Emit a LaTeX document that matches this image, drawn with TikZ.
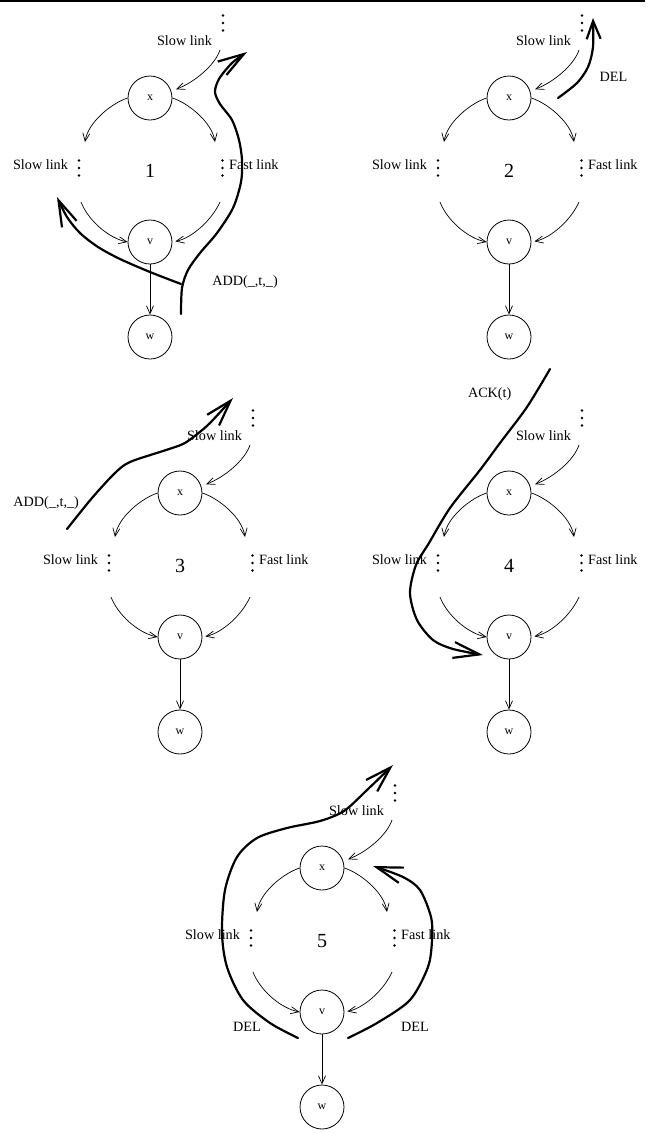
\documentclass[tikz,border=0pt]{standalone}
\usepackage{fontspec}
\setmainfont{Liberation Serif}
\usetikzlibrary{arrows.meta}

\tikzset{
  lbl/.style={font=\fontsize{14.2}{17}\selectfont, inner sep=0pt},
  vtx/.style={circle, draw, line width=0.8pt, minimum size=44pt, inner sep=0pt,
              font=\fontsize{12}{14}\selectfont},
  numlbl/.style={font=\fontsize{20}{24}\selectfont, inner sep=0pt},
  link/.style={line width=0.7pt, -{Straight Barb[length=8pt,width=7pt]}},
  msg/.style={line width=2.2pt, line cap=round,
              -{Straight Barb[length=26pt,width=16pt]}},
  smallmsg/.style={line width=2.2pt, line cap=round,
              -{Straight Barb[length=18pt,width=14pt]}},
}

% three dots stacked vertically, centred on (#1,#2)
\newcommand{\dotcol}[2]{%
  \fill (#1,#2-7.5) circle (1.4pt) (#1,#2) circle (1.4pt) (#1,#2+7.5) circle (1.4pt);}

% one copy of the x / v / w gadget with its links
\newcommand{\gadget}[4]{%
\begin{scope}[shift={(#2,#3)}]
  \node[vtx] (#1x) at (150,98) {x};
  \node[vtx] (#1v) at (150,242) {v};
  \node[vtx] (#1w) at (150,337) {w};
  \node[lbl] (#1tl) at (184.5,41) {Slow link};
  \node[lbl] (#1ll) at (40.5,165) {Slow link};
  \node[lbl,anchor=west] (#1fl) at (229,165) {Fast link};
  \node[numlbl] (#1n) at (150,171) {#4};
  \dotcol{223}{23}
  \dotcol{79}{168}
  \dotcol{222.5}{168}
  \coordinate (#1ts) at (220,50);
  \coordinate (#1le) at (85,142);
  \coordinate (#1re) at (215,142);
  \coordinate (#1ls) at (81,202);
  \coordinate (#1rs) at (220,202);
  \draw[link, shorten >=5pt] (#1ts) .. controls (215,65) and (195,82) .. (#1x.18);
  \draw[link] (#1x.west) .. controls (112,103) and (88,122) .. (#1le);
  \draw[link] (#1x.east) .. controls (188,103) and (212,122) .. (#1re);
  \draw[link] (#1ls) .. controls (88,220) and (108,238) .. (#1v.west);
  \draw[link, shorten >=3pt] (#1rs) .. controls (212,220) and (192,238) .. (#1v.east);
  \draw[link] (#1v) -- (#1w);
\end{scope}}

\begin{document}
\begin{tikzpicture}[x=1pt,y=-1pt]
  \useasboundingbox (0,0) rectangle (652,1133);
  \draw[line width=1.6pt] (0,1) -- (645,1);

  \gadget{a}{0}{0}{1}
  \gadget{b}{359}{0}{2}
  \gadget{c}{30}{395}{3}
  \gadget{d}{359}{395}{4}
  \gadget{e}{172}{770}{5}

  % step 1
  \begin{scope}
    \draw[msg] plot[smooth] coordinates {(181,314) (182,288) (188,270) (200,253)
      (217,233) (233,208) (241,182) (242,160) (239,140) (232,120) (220,104)
      (215,92) (219,79) (232,63) (247,52)};
    \draw[msg] plot[smooth] coordinates {(181,284) (150,272) (120,259) (98,247)
      (80,233) (67,217) (57,197)};
    \node[lbl] (aadd) at (245,282) {ADD(\_,t,\_)};
  \end{scope}

  % step 2
  \begin{scope}[shift={(359,0)}]
    \draw[smallmsg] plot[smooth] coordinates {(199,98) (218,83) (229,67) (234,47) (234,18)};
    \node[lbl] (bdel) at (254.5,76.7) {DEL};
  \end{scope}

  % step 3
  \begin{scope}[shift={(30,395)}]
    \draw[msg] plot[smooth] coordinates {(37,134) (62,103) (85,78) (100,67)
      (133,56) (153,49) (166,40) (180,28) (203,3)};
    \node[lbl] (cadd) at (16.2,108.3) {ADD(\_,t,\_)};
  \end{scope}

  % step 4
  \begin{scope}[shift={(359,395)}]
    \draw[msg] plot[smooth] coordinates {(191,-26) (168,12) (141,48) (121,75)
      (91,113) (70,148) (57,170) (51,198) (58,225) (74,245) (94,254) (124,260)};
    \node[lbl] (dack) at (130.7,-1) {ACK(t)};
  \end{scope}

  % step 5
  \begin{scope}[shift={(172,770)}]
    \draw[msg] plot[smooth] coordinates {(126,268) (98,253) (71,230) (55,197)
      (50,163) (53,120) (65,87) (85,68) (115,58) (148,51) (172,41) (195,20) (221,-5)};
    \draw[msg] plot[smooth] coordinates {(176,268) (205,253) (238,230) (256,197)
      (260,170) (259,147) (248,120) (231,107) (201,96)};
    \node[lbl] (edela) at (75,257.3) {DEL};
    \node[lbl] (edelb) at (243,257.3) {DEL};
  \end{scope}
\end{tikzpicture}
\end{document}
